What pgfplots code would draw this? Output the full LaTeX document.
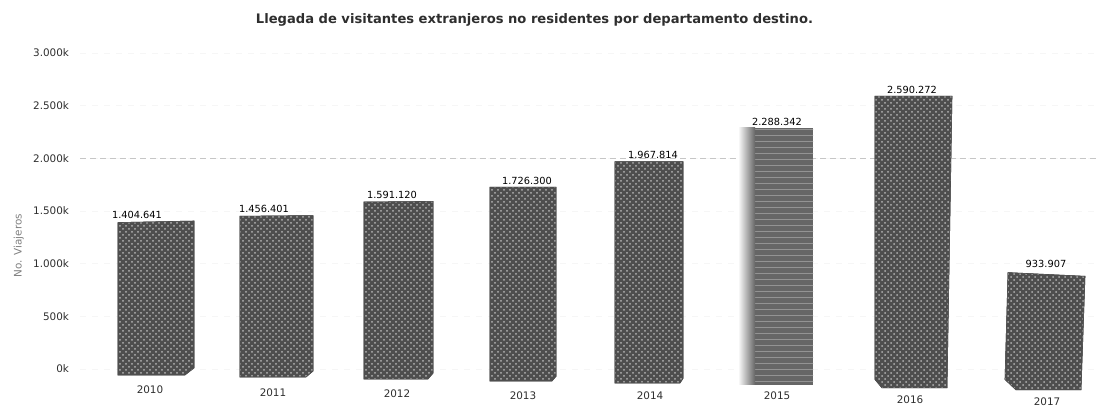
\documentclass[border=0pt]{standalone}
\usepackage{fontspec}
\setmainfont{DejaVu Sans}
\usepackage{pgfplots}
\pgfplotsset{compat=1.18}
\usetikzlibrary{patterns}
\definecolor{barcol}{HTML}{4E4E4E}
\definecolor{txtcol}{HTML}{2E2E2E}
% year label, lowered by #1 below the axis
\newcommand{\yr}[2]{\raisebox{-#1pt}[0pt][0pt]{#2}}

\pgfplotsset{
  barstyle/.style={fill=barcol, draw=barcol, line width=0.3pt, mark=none,
    postaction={pattern=crosshatch dots, pattern color=gray!60}},
}

\begin{document}
\begin{tikzpicture}
\useasboundingbox (0,0) rectangle (549.5pt,203pt);
\begin{axis}[
    at={(40pt,13.25pt)}, anchor=south west,
    scale only axis, width=509.5pt, height=163.25pt,
    xmin=80, xmax=1099, ymin=-100000, ymax=3000000,
    clip=false,
    axis line style={draw=none},
    major tick length=0pt,
    scaled y ticks=false,
    ytick={0,500000,1000000,1500000,2000000,2500000,3000000},
    yticklabels={0k,500k,1.000k,1.500k,2.000k,2.500k,3.000k},
    ymajorgrids,
    grid style={gray!7, dashed},
    extra y ticks={2000000}, extra y tick labels={},
    extra tick style={grid style={gray!45, densely dashed, line width=0.3pt}},
    xtick={150,273,397,523,650,777,910,1047},
    xticklabels={\yr{6.5}{2010},\yr{8}{2011},\yr{8.5}{2012},\yr{9.5}{2013},\yr{9.5}{2014},\yr{9.5}{2015},\yr{11.5}{2016},\yr{12.3}{2017}},
    tick label style={font=\fontsize{5.2}{6}\selectfont, text=txtcol},
    xticklabel style={inner sep=0pt},
    yticklabel style={xshift=-2pt},
    ylabel={No. Viajeros},
    ylabel style={font=\fontsize{5.2}{6}\selectfont, text=gray, at={(axis description cs:-0.06,0.41)}, yshift=-6pt},
    title={\textbf{Llegada de visitantes extranjeros no residentes por departamento destino.}},
    title style={font=\fontsize{6.55}{8}\selectfont, text=txtcol, at={(axis description cs:0.446,1.064)}, anchor=center, yshift=0pt},
    nodes near coords style={font=\fontsize{4.9}{5}\selectfont, text=black, inner sep=1.2pt},
]
% bars: outline points, value at the top edge, scan skew at the base
\addplot[barstyle] coordinates {(118,1390000)(118,-57000)(185,-57000)(194,10000)(194,1404641)} -- cycle;
\addplot[barstyle] coordinates {(240,1450000)(240,-76000)(306,-76000)(313,-20000)(313,1456401)} -- cycle;
\addplot[barstyle] coordinates {(364,1585000)(364,-95000)(428,-95000)(433,-40000)(433,1591120)} -- cycle;
\addplot[barstyle] coordinates {(490,1726300)(490,-114000)(552,-114000)(556,-70000)(556,1726300)} -- cycle;
\addplot[barstyle] coordinates {(615,1967814)(615,-133000)(680,-133000)(683,-90000)(683,1967814)} -- cycle;
\addplot[fill=gray!80!black, draw=none, mark=none, postaction={pattern=horizontal lines, pattern color=gray!85}] coordinates {(755,2288342)(755,-152000)(813,-152000)(813,2288342)} -- cycle;
\addplot[left color=white, right color=gray!80!black, draw=none, mark=none] coordinates {(738,2288342)(738,-152000)(755,-152000)(755,2288342)} -- cycle;
\addplot[barstyle] coordinates {(875,2590272)(875,-100000)(882,-180000)(947,-180000)(952,2590272)} -- cycle;
\addplot[barstyle] coordinates {(1008,915000)(1005,-100000)(1016,-199000)(1081,-199000)(1085,880000)} -- cycle;
% value labels
\addplot[draw=none, mark=none, nodes near coords, point meta=explicit symbolic] table[meta=lab] {
x y lab
137 1404641 1.404.641
264 1456401 1.456.401
392 1591120 1.591.120
527 1726300 1.726.300
653 1967814 1.967.814
777 2288342 2.288.342
912 2590272 2.590.272
1046 933907 933.907
};
\end{axis}
\end{tikzpicture}
\end{document}
